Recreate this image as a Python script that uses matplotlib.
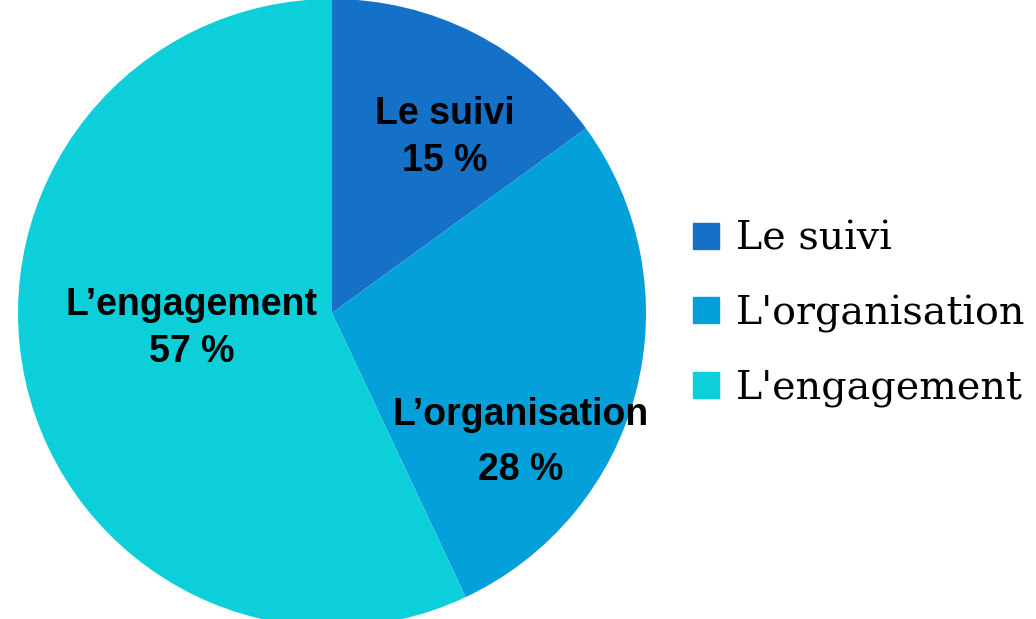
import matplotlib
matplotlib.use("Agg")
import matplotlib.pyplot as plt
from matplotlib import font_manager
from matplotlib.lines import Line2D

# data
categories = ["Le suivi", "L'organisation", "L'engagement"]
slice_labels = ["Le suivi", "L\u2019organisation", "L\u2019engagement"]
shares = [15, 28, 57]
colors = ["#1570C8", "#03A0D9", "#0DCFDA"]

installed = {f.name for f in font_manager.fontManager.ttflist}
narrow = "Liberation Sans Narrow" if "Liberation Sans Narrow" in installed else "Liberation Sans"

fig = plt.figure(figsize=(10.36, 6.19), dpi=100)
# pie square: 628 px wide, centred at (332, 313) px
ax = fig.add_axes([18 / 1036, (619 - 627) / 619, 628 / 1036, 628 / 619])
ax.pie(shares, colors=colors, startangle=90, counterclock=False, radius=1,
       wedgeprops=dict(linewidth=0))
ax.set_xlim(-1, 1)
ax.set_ylim(-1, 1)
ax.set_aspect("equal")
ax.axis("off")

# slice label positions (fraction of radius)
label_pos = [(0.36, 0.56), (0.60, -0.412), (-0.446, -0.05)]
label_size = [27, 33 if narrow != "Liberation Sans" else 27, 27]
label_spacing = [1.4, 1.7, 1.4]
for name, val, (x, y), fs, ls in zip(slice_labels, shares, label_pos, label_size, label_spacing):
    fam = narrow if name.startswith("L\u2019org") else "Liberation Sans"
    ax.text(x, y, f"{name}\n{val} %", ha="center", va="center",
            fontsize=fs, fontweight="bold", family=fam, linespacing=ls)

handles = [Line2D([], [], marker="s", linestyle="none", markersize=19,
                  markerfacecolor=c, markeredgecolor=c) for c in colors]
fig.legend(handles, categories, loc="center left",
           bbox_to_anchor=(690 / 1036, 1 - 314 / 619), frameon=False,
           prop={"family": "DejaVu Serif", "size": 28.5},
           handlelength=0.8, handletextpad=0.35, labelspacing=0.93,
           borderaxespad=0, borderpad=0)

fig.savefig("out.png", dpi=100, facecolor="white")
